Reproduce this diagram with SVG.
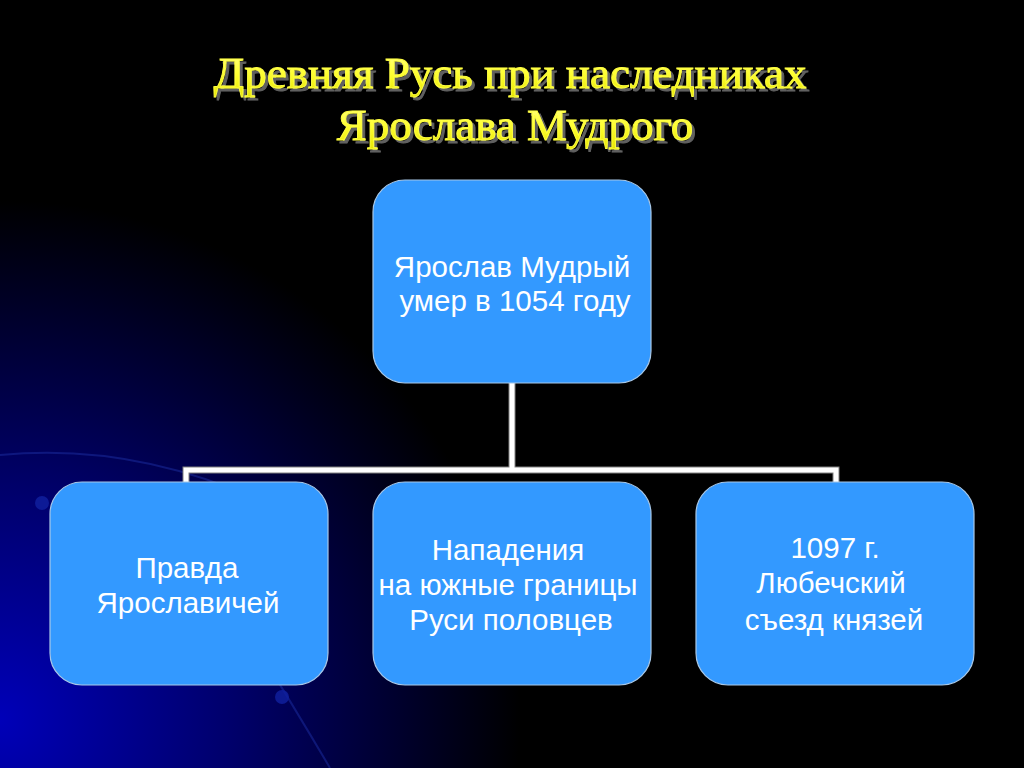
<svg xmlns="http://www.w3.org/2000/svg" width="1024" height="768" viewBox="0 0 1024 768">
<defs>
<radialGradient id="bg" cx="0" cy="720" r="520" gradientUnits="userSpaceOnUse">
<stop offset="0" stop-color="#0000b8"/>
<stop offset="0.45" stop-color="#00006a"/>
<stop offset="1" stop-color="#000000"/>
</radialGradient>
<linearGradient id="ttl" x1="0" y1="0" x2="0" y2="1">
<stop offset="0" stop-color="#ffff99"/>
<stop offset="0.5" stop-color="#ffff33"/>
<stop offset="1" stop-color="#e6e600"/>
</linearGradient>
<filter id="sh" x="-5%" y="-20%" width="110%" height="140%">
<feGaussianBlur in="SourceAlpha" stdDeviation="1.2"/>
<feOffset dx="3" dy="3"/>
<feComponentTransfer><feFuncA type="linear" slope="0.9"/></feComponentTransfer>
<feFlood flood-color="#606060"/>
<feComposite operator="in" in2="SourceAlpha"/>
<feOffset dx="3" dy="3"/>
<feMerge><feMergeNode/><feMergeNode in="SourceGraphic"/></feMerge>
</filter>
</defs>
<style>
.box{fill:#3399ff;stroke:#a8c8e8;stroke-width:1.2}
.t{font-family:"Liberation Sans",Arial,sans-serif;font-size:29.5px;fill:#ffffff;text-anchor:middle}
.title{font-family:"Liberation Serif","Times New Roman",serif;font-size:45px;fill:url(#ttl);stroke:#ffff40;stroke-width:0.9;text-anchor:middle}
.conn{fill:none;stroke:#808080;stroke-width:7}
.conn2{fill:none;stroke:#ffffff;stroke-width:5}
</style>
<rect x="0" y="0" width="1024" height="768" fill="#000"/>
<rect x="0" y="0" width="1024" height="768" fill="url(#bg)"/>
<g fill="none" stroke="#1a2a9a" stroke-opacity="0.55" stroke-width="2">
<path d="M0 455 Q150 440 300 520"/>
<path d="M240 620 Q290 700 330 768"/>
</g>
<g fill="#1020a0" opacity="0.8">
<circle cx="42" cy="503" r="7"/>
<circle cx="282" cy="697" r="7"/>
</g>
<g id="title" filter="url(#sh)">
<text class="title" x="510" y="88">Древняя Русь при наследниках</text>
<text class="title" x="515" y="140">Ярослава Мудрого</text>
</g>
<g id="connectors">
<path class="conn" d="M512 383 V470 M186 483 V470 H836 V483"/>
<path class="conn2" d="M512 383 V470 M186 483 V470 H836 V483"/>
</g>
<g id="n-top">
<rect class="box" x="373" y="180" width="278" height="203" rx="32"/>
<text class="t" x="512" y="277">Ярослав Мудрый</text>
<text class="t" x="515" y="311">умер в 1054 году</text>
</g>
<g id="n-left">
<rect class="box" x="50" y="482" width="278" height="203" rx="32"/>
<text class="t" x="187" y="578">Правда</text>
<text class="t" x="188" y="613">Ярославичей</text>
</g>
<g id="n-mid">
<rect class="box" x="373" y="482" width="278" height="203" rx="32"/>
<text class="t" x="508" y="560">Нападения</text>
<text class="t" x="508" y="595">на южные границы</text>
<text class="t" x="511" y="630">Руси половцев</text>
</g>
<g id="n-right">
<rect class="box" x="696" y="482" width="278" height="203" rx="32"/>
<text class="t" x="835" y="558">1097 г.</text>
<text class="t" x="831" y="593">Любечский</text>
<text class="t" x="834" y="630">съезд князей</text>
</g>
</svg>
